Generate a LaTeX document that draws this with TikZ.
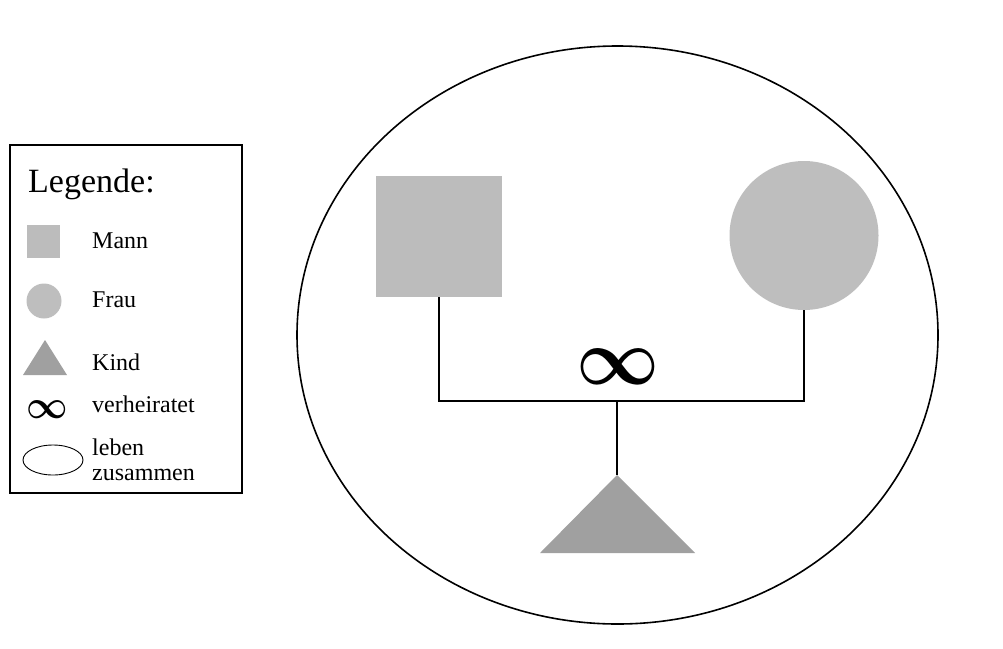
\documentclass[tikz,border=0pt]{standalone}
\usepackage{fontspec}
\usepackage{graphicx}
\setmainfont{Liberation Serif}
\usetikzlibrary{shapes.geometric}
\definecolor{mannfill}{RGB}{188,188,188}
\definecolor{fraufill}{RGB}{190,190,190}
\definecolor{kindfill}{RGB}{160,160,160}
\tikzset{
  line/.style={line width=1.8pt, black},
  legtext/.style={anchor=base west, inner sep=0pt, font=\fontsize{24}{26}\selectfont},
  infsym/.style={inner sep=0pt, font=\Huge},
}
\begin{document}
\begin{tikzpicture}[x=1pt,y=-1pt]
\useasboundingbox[fill=white] (0,0) rectangle (1003,648);
% big ellipse
\node[ellipse, draw, line width=1.6pt, minimum width=641, minimum height=578, inner sep=0pt] (family) at (617.5,335) {};
% persons
\node[rectangle, fill=mannfill, minimum width=126, minimum height=121, inner sep=0pt] (mann) at (439,236.5) {};
\node[circle, fill=fraufill, minimum size=149, inner sep=0pt] (frau) at (804,235.5) {};
\coordinate (junction) at (617,401);
\coordinate (kind) at (617,475);
\fill[kindfill] (kind) -- ++(78,78) -- ++(-155,0) -- cycle;
\node[infsym] (ehe) at (618,367) {\scalebox{2.9}[3.2]{\boldmath$\infty$}};
\draw[line] (mann.south) |- (junction) -| (frau.south);
\draw[line] (junction) -- (kind);
% legend
\node[draw, line width=1.4pt, minimum width=232, minimum height=348, inner sep=0pt] (legend) at (126,319) {};
\node[anchor=base west, inner sep=0pt, font=\fontsize{34}{36}\selectfont] (legtitle) at (28,192) {Legende:};
\node[rectangle, fill=mannfill, minimum size=33, inner sep=0pt] (lmann) at (43.5,241.5) {};
\node[legtext] (tmann) at (92,248) {Mann};
\node[circle, fill=fraufill, minimum size=35, inner sep=0pt] (lfrau) at (44,301) {};
\node[legtext] (tfrau) at (92,307) {Frau};
\coordinate (lkind) at (45,340);
\fill[kindfill] (lkind) -- ++(22,35) -- ++(-44,0) -- cycle;
\node[legtext] (tkind) at (92,370) {Kind};
\node[infsym] (linf) at (47,410) {\scalebox{1.45}[1.6]{\boldmath$\infty$}};
\node[legtext] (tinf) at (92,412) {verheiratet};
\node[ellipse, draw, line width=0.9pt, minimum width=60, minimum height=30, inner sep=0pt] (lell) at (53,460) {};
\node[legtext] (tleben) at (92,455) {leben};
\node[legtext] (tzus) at (92,480) {zusammen};
\end{tikzpicture}
\end{document}
